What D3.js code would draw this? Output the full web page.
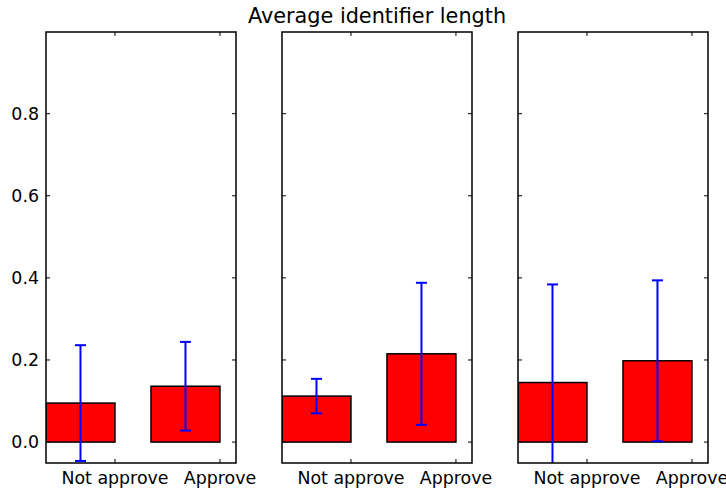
<!DOCTYPE html>
<html>
<head>
<meta charset="utf-8">
<script src="https://cdn.jsdelivr.net/npm/d3@7"></script>
<style>
  body { margin: 0; background: #fff; }
  svg { display: block; font-family: "DejaVu Sans", sans-serif; }
</style>
</head>
<body>
<svg id="chart"></svg>
<script>
// Values
const categories = ['Not approve', 'Approve'];
const meansNotApprove = [0.095, 0.112, 0.145];
const meansApprove = [0.136, 0.215, 0.198];
const errNotApprove = [0.141, 0.042, 0.239];
const errApprove = [0.108, 0.173, 0.196];
const yTicks = [0.0, 0.2, 0.4, 0.6, 0.8];
const title = 'Average identifier length';

const width = 726, height = 490;
const panel = { top: 32, bottom: 463, width: 190, lefts: [46, 282, 518] };
const barWidth = 0.657;

const svg = d3.select('#chart')
  .attr('width', width)
  .attr('height', height)
  .attr('viewBox', `0 0 ${width} ${height}`);

const y = d3.scaleLinear().domain([-0.051, 0.999]).range([panel.bottom, panel.top]);

panel.lefts.forEach((left, p) => {
  const x = d3.scaleLinear().domain([0, 1.81]).range([left, left + panel.width]);
  const g = svg.append('g');

  const clipId = `clip${p}`;
  svg.append('clipPath').attr('id', clipId)
    .append('rect')
    .attr('x', left).attr('y', panel.top)
    .attr('width', panel.width).attr('height', panel.bottom - panel.top);

  const data = categories.map((c, i) => ({
    cat: c,
    pos: i,
    mean: i === 0 ? meansNotApprove[p] : meansApprove[p],
    err: i === 0 ? errNotApprove[p] : errApprove[p]
  }));

  const plot = g.append('g').attr('clip-path', `url(#${clipId})`);

  // bars
  plot.selectAll('rect.bar')
    .data(data)
    .enter()
    .append('rect')
    .attr('class', 'bar')
    .attr('x', d => x(d.pos))
    .attr('y', d => y(d.mean))
    .attr('width', d => x(d.pos + barWidth) - x(d.pos))
    .attr('height', d => y(0) - y(d.mean))
    .attr('fill', '#ff0000')
    .attr('stroke', '#000')
    .attr('stroke-width', 1.5);

  // error bars
  const eb = plot.selectAll('g.err')
    .data(data)
    .enter()
    .append('g')
    .attr('class', 'err')
    .attr('stroke', '#0000ff')
    .attr('stroke-width', 2);

  eb.append('line')
    .attr('x1', d => x(d.pos + barWidth / 2))
    .attr('x2', d => x(d.pos + barWidth / 2))
    .attr('y1', d => y(d.mean - d.err))
    .attr('y2', d => y(d.mean + d.err));

  [-1, 1].forEach(s => {
    eb.append('line')
      .attr('x1', d => x(d.pos + barWidth / 2) - 5.5)
      .attr('x2', d => x(d.pos + barWidth / 2) + 5.5)
      .attr('y1', d => y(d.mean + s * d.err))
      .attr('y2', d => y(d.mean + s * d.err));
  });

  // inward ticks on all sides
  const tickLen = 4;
  const ticks = g.append('g').attr('stroke', '#000').attr('stroke-width', 1);
  yTicks.forEach(t => {
    ticks.append('line').attr('x1', left).attr('x2', left + tickLen)
      .attr('y1', y(t)).attr('y2', y(t));
    ticks.append('line').attr('x1', left + panel.width).attr('x2', left + panel.width - tickLen)
      .attr('y1', y(t)).attr('y2', y(t));
  });
  data.forEach(d => {
    const tx = x(d.pos + barWidth);
    ticks.append('line').attr('x1', tx).attr('x2', tx)
      .attr('y1', panel.bottom).attr('y2', panel.bottom - tickLen);
    ticks.append('line').attr('x1', tx).attr('x2', tx)
      .attr('y1', panel.top).attr('y2', panel.top + tickLen);
  });

  // x tick labels
  g.selectAll('text.xlab')
    .data(data)
    .enter()
    .append('text')
    .attr('class', 'xlab')
    .attr('x', d => x(d.pos + barWidth))
    .attr('y', 484)
    .attr('text-anchor', 'middle')
    .attr('font-size', 17.4)
    .attr('fill', '#000')
    .text(d => d.cat);

  // y tick labels only on first panel
  if (p === 0) {
    g.selectAll('text.ylab')
      .data(yTicks)
      .enter()
      .append('text')
      .attr('class', 'ylab')
      .attr('x', left - 7)
      .attr('y', d => y(d))
      .attr('dy', '0.36em')
      .attr('text-anchor', 'end')
      .attr('font-size', 17.4)
      .attr('fill', '#000')
      .text(d => d3.format('.1f')(d));
  }

  // frame
  g.append('rect')
    .attr('x', left).attr('y', panel.top)
    .attr('width', panel.width).attr('height', panel.bottom - panel.top)
    .attr('fill', 'none')
    .attr('stroke', '#000')
    .attr('stroke-width', 1.5);

  if (p === 1) {
    svg.append('text')
      .attr('x', left + panel.width / 2)
      .attr('y', 23)
      .attr('text-anchor', 'middle')
      .attr('font-size', 20.8)
      .attr('fill', '#000')
      .text(title);
  }
});
</script>
</body>
</html>
